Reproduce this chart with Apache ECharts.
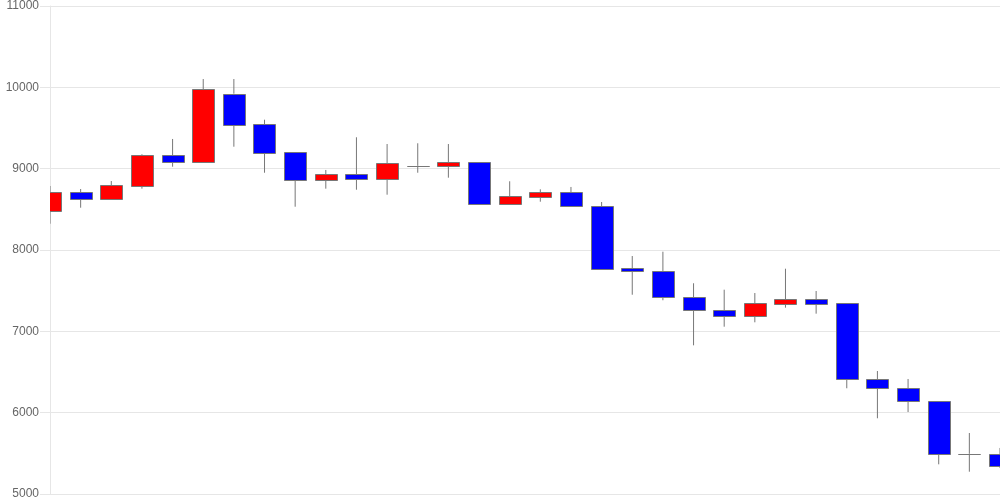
<!DOCTYPE html>
<html>
<head>
<meta charset="utf-8">
<script src="https://cdn.jsdelivr.net/npm/echarts@6/dist/echarts.min.js"></script>
<style>html,body{margin:0;padding:0;background:#fff}#c{width:1000px;height:500px}</style>
</head>
<body>
<div id="c"></div>
<script>
var categories = ['1','2','3','4','5','6','7','8','9','10','11','12','13','14','15','16','17','18','19','20','21','22','23','24','25','26','27','28','29','30','31','32'];
var opens  = [8476, 8713, 8631, 8791, 9164, 9078, 9922, 9545, 9201, 8857, 8931, 8869, 9036, 9032, 9082, 8569, 8655, 8709, 8541, 7775, 7742, 7418, 7262, 7189, 7340, 7394, 7348, 6414, 6303, 6140, 5496, 5492];
var closes = [8709, 8631, 8795, 9164, 9078, 9976, 9541, 9196, 8857, 8934, 8869, 9066, 9036, 9082, 8569, 8660, 8709, 8537, 7770, 7738, 7418, 7259, 7189, 7348, 7394, 7340, 6410, 6300, 6140, 5492, 5496, 5348];
var lows   = [8323, 8520, 8625, 8754, 9024, 9078, 9270, 8950, 8532, 8754, 8741, 8680, 8950, 8889, 8557, 8569, 8594, 8537, 7758, 7450, 7382, 6828, 7057, 7111, 7291, 7217, 6300, 5931, 6008, 5365, 5274, 5320];
var highs  = [8787, 8750, 8848, 9177, 9365, 10102, 10102, 9602, 9201, 8984, 9386, 9303, 9312, 9303, 9082, 8845, 8746, 8775, 8590, 7926, 7979, 7591, 7512, 7471, 7770, 7496, 7348, 6512, 6414, 6140, 5750, 5566];
var yTicks = [5000, 6000, 7000, 8000, 9000, 10000, 11000];

var data = categories.map(function (c, i) { return [i, opens[i], closes[i], lows[i], highs[i]]; });

function renderItem(params, api) {
  var idx = api.value(0);
  var o = api.value(1), c = api.value(2), lo = api.value(3), hi = api.value(4);
  var pO = api.coord([idx, o]);
  var pC = api.coord([idx, c]);
  var pL = api.coord([idx, lo]);
  var pH = api.coord([idx, hi]);
  var w = api.size([1, 0])[0] * 0.72;
  var x = pO[0];
  var top = Math.min(pO[1], pC[1]);
  var bot = Math.max(pO[1], pC[1]);
  var up = c > o;
  var fill = c === o ? '#777777' : (up ? '#ff0000' : '#0000ff');
  return {
    type: 'group',
    children: [
      { type: 'line', shape: { x1: x, y1: pH[1], x2: x, y2: top }, style: { stroke: '#777777', lineWidth: 1 } },
      { type: 'line', shape: { x1: x, y1: bot, x2: x, y2: pL[1] }, style: { stroke: '#777777', lineWidth: 1 } },
      { type: 'rect', shape: { x: Math.round(x - w / 2) + 0.5, y: Math.round(top) + 0.5, width: Math.round(w), height: Math.round(bot) - Math.round(top) }, style: { fill: fill, stroke: '#777777', lineWidth: 1 } }
    ]
  };
}

var chart = echarts.init(document.getElementById('c'));
chart.setOption({
  animation: false,
  grid: { left: 50, right: 0, top: 6, bottom: 6 },
  xAxis: {
    type: 'category',
    data: categories,
    boundaryGap: false,
    axisLine: { show: false },
    axisTick: { show: false },
    axisLabel: { show: false },
    splitLine: { show: false }
  },
  yAxis: {
    type: 'value',
    min: yTicks[0],
    max: yTicks[yTicks.length - 1],
    interval: 1000,
    axisLine: { show: true, lineStyle: { color: '#e6e6e6' } },
    axisTick: { show: true, length: 10, lineStyle: { color: '#e6e6e6' } },
    axisLabel: { color: '#666', fontSize: 12, fontFamily: 'Liberation Sans, Arial, sans-serif', margin: 11, formatter: function (v) { return String(v); } },
    splitLine: { show: true, lineStyle: { color: '#e6e6e6' } }
  },
  series: [{
    type: 'custom',
    renderItem: renderItem,
    clip: true,
    encode: { x: 0, y: [1, 2, 3, 4] },
    data: data
  }]
});
</script>
</body>
</html>
